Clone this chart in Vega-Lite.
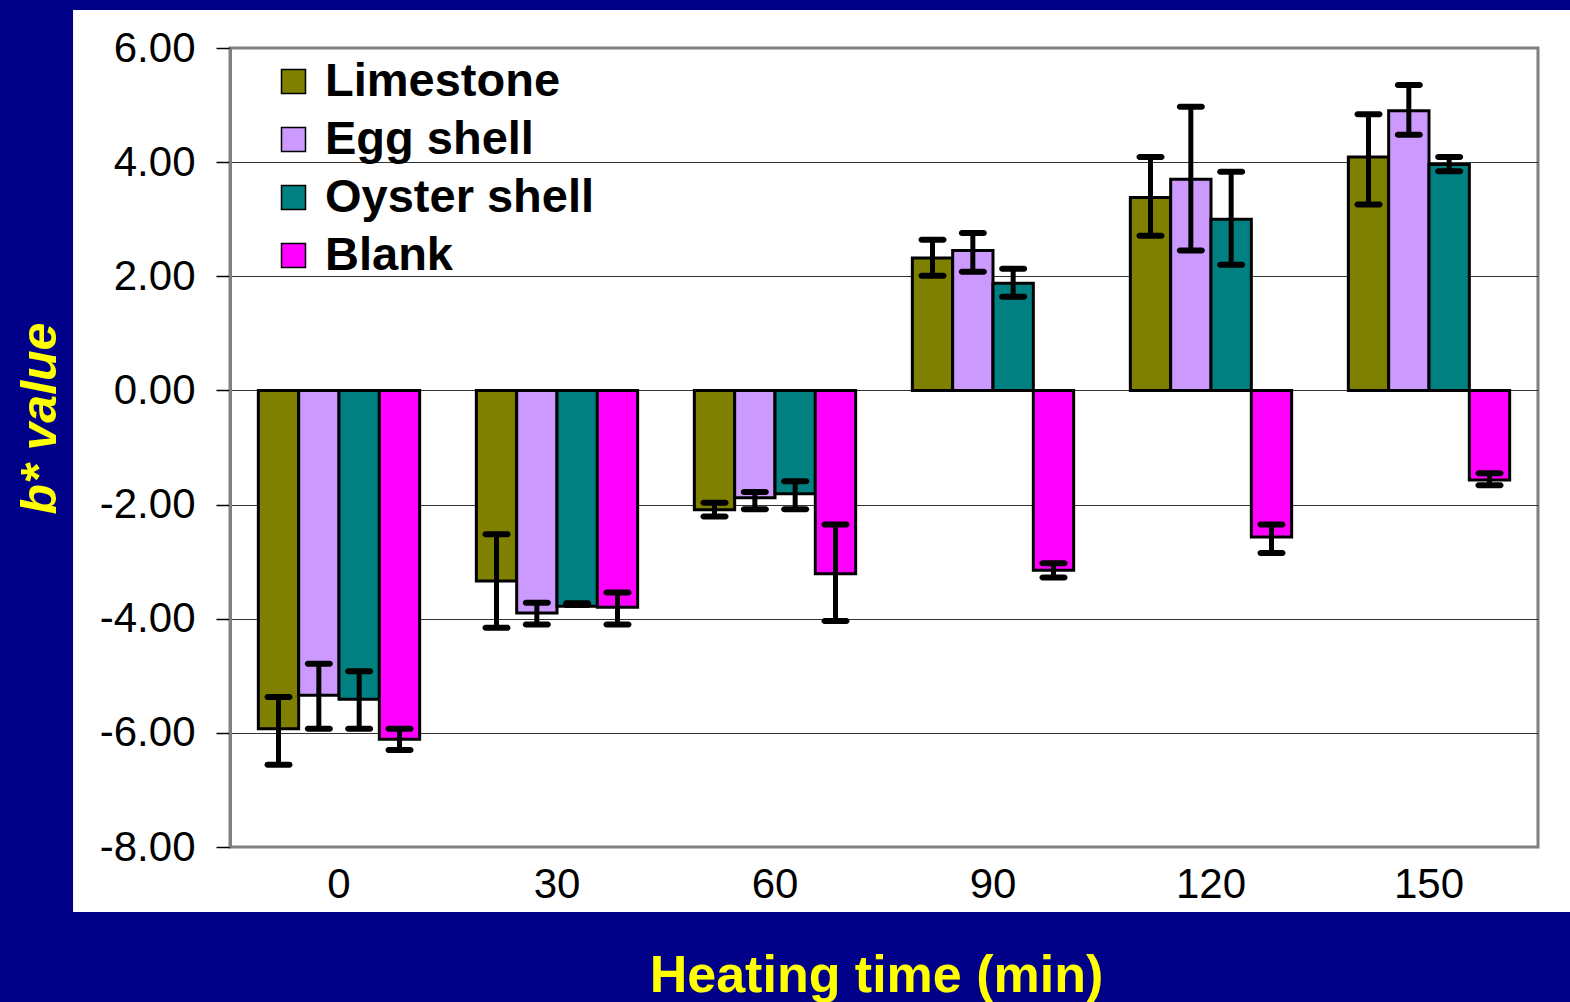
{
  "$schema": "https://vega.github.io/schema/vega-lite/v6.json",
  "width": 1308,
  "height": 799,
  "autosize": "none",
  "padding": {"left": 230, "top": 48, "right": 32, "bottom": 155},
  "background": "white",
  "config": {
    "font": "Liberation Sans",
    "view": {"stroke": "#808080", "strokeWidth": 3}
  },
  "datasets": {
    "bstar": [
      {"time": "0", "material": "Limestone", "value": -5.93, "lo": -6.56, "hi": -5.37},
      {"time": "0", "material": "Egg shell", "value": -5.34, "lo": -5.93, "hi": -4.79},
      {"time": "0", "material": "Oyster shell", "value": -5.41, "lo": -5.93, "hi": -4.92},
      {"time": "0", "material": "Blank", "value": -6.11, "lo": -6.30, "hi": -5.93},
      {"time": "30", "material": "Limestone", "value": -3.34, "lo": -4.16, "hi": -2.52},
      {"time": "30", "material": "Egg shell", "value": -3.90, "lo": -4.10, "hi": -3.72},
      {"time": "30", "material": "Oyster shell", "value": -3.78, "lo": -3.76, "hi": -3.73},
      {"time": "30", "material": "Blank", "value": -3.80, "lo": -4.10, "hi": -3.54},
      {"time": "60", "material": "Limestone", "value": -2.09, "lo": -2.21, "hi": -1.97},
      {"time": "60", "material": "Egg shell", "value": -1.88, "lo": -2.08, "hi": -1.78},
      {"time": "60", "material": "Oyster shell", "value": -1.81, "lo": -2.08, "hi": -1.59},
      {"time": "60", "material": "Blank", "value": -3.21, "lo": -4.04, "hi": -2.35},
      {"time": "90", "material": "Limestone", "value": 2.32, "lo": 2.01, "hi": 2.64},
      {"time": "90", "material": "Egg shell", "value": 2.45, "lo": 2.08, "hi": 2.76},
      {"time": "90", "material": "Oyster shell", "value": 1.88, "lo": 1.64, "hi": 2.13},
      {"time": "90", "material": "Blank", "value": -3.15, "lo": -3.28, "hi": -3.03},
      {"time": "120", "material": "Limestone", "value": 3.38, "lo": 2.71, "hi": 4.09},
      {"time": "120", "material": "Egg shell", "value": 3.70, "lo": 2.45, "hi": 4.97},
      {"time": "120", "material": "Oyster shell", "value": 3.00, "lo": 2.20, "hi": 3.83},
      {"time": "120", "material": "Blank", "value": -2.57, "lo": -2.85, "hi": -2.35},
      {"time": "150", "material": "Limestone", "value": 4.09, "lo": 3.26, "hi": 4.84},
      {"time": "150", "material": "Egg shell", "value": 4.90, "lo": 4.48, "hi": 5.35},
      {"time": "150", "material": "Oyster shell", "value": 3.96, "lo": 3.84, "hi": 4.09},
      {"time": "150", "material": "Blank", "value": -1.57, "lo": -1.66, "hi": -1.45}
    ]
  },
  "layer": [
    {
      "data": {"values": [{}]},
      "layer": [
        {
          "mark": {"type": "rect", "color": "#000088", "clip": false},
          "encoding": {
            "x": {"datum": -0.2, "type": "quantitative", "scale": {"domain": [0, 1], "nice": false, "zero": false},
              "axis": {"title": "Heating time (min)", "orient": "bottom", "labels": false, "ticks": false, "domain": false, "grid": false, "zindex": 1,
                "titleFontSize": 52, "titleFontWeight": "bold", "titleColor": "#FFFF00", "titleX": 646, "titleY": 144, "titleBaseline": "alphabetic", "titleAlign": "center"}},
            "x2": {"datum": -0.12},
            "y": {"datum": 7, "type": "quantitative", "scale": {"domain": [-8, 6], "nice": false, "zero": false},
              "axis": {"title": "b* value", "orient": "left", "labels": false, "ticks": false, "domain": false, "grid": false, "zindex": 1,
                "titleFontSize": 50, "titleFontWeight": "bold", "titleFontStyle": "italic", "titleColor": "#FFFF00", "titleAngle": -90, "titleX": -175, "titleY": 370, "titleBaseline": "alphabetic", "titleAlign": "center"}},
            "y2": {"datum": -11}
          }
        },
        {
          "mark": {"type": "rect", "color": "#000088", "clip": false},
          "encoding": {
            "x": {"datum": -0.2, "type": "quantitative"},
            "x2": {"datum": 1.1},
            "y": {"datum": 7, "type": "quantitative"},
            "y2": {"datum": 6.666}
          }
        },
        {
          "mark": {"type": "rect", "color": "#000088", "clip": false},
          "encoding": {
            "x": {"datum": -0.2, "type": "quantitative"},
            "x2": {"datum": 1.1},
            "y": {"datum": -9.139, "type": "quantitative"},
            "y2": {"datum": -11}
          }
        }
      ]
    },
    {
      "data": {"name": "bstar"},
      "encoding": {
        "x": {"field": "time", "type": "ordinal", "sort": ["0", "30", "60", "90", "120", "150"],
          "scale": {"paddingInner": 0.26, "paddingOuter": 0.13},
          "axis": {"title": null, "orient": "bottom", "labelFontSize": 42, "labelColor": "black", "labelAngle": 0, "ticks": false, "domain": false, "grid": false, "labelPadding": 17}},
        "xOffset": {"field": "material", "type": "nominal", "sort": ["Limestone", "Egg shell", "Oyster shell", "Blank"]}
      },
      "layer": [
        {
          "mark": {"type": "bar", "stroke": "black", "strokeWidth": 3, "opacity": 1},
          "encoding": {
            "y": {"field": "value", "type": "quantitative", "scale": {"domain": [-8, 6], "nice": false, "zero": false},
              "axis": {"title": null, "orient": "left", "values": [-8, -6, -4, -2, 0, 2, 4, 6], "format": ".2f",
                "labelExpr": "replace(datum.label, '−', '-')",
                "labelFontSize": 42, "labelColor": "black", "labelPadding": 21,
                "tickSize": 14, "tickColor": "black", "tickWidth": 1.5,
                "domainColor": "#808080", "domainWidth": 3,
                "grid": true, "gridWidth": 1,
                "gridColor": {"condition": {"test": "datum.value == 6 || datum.value == -8", "value": "#808080"}, "value": "#333333"}}},
            "color": {"field": "material", "type": "nominal",
              "scale": {"domain": ["Limestone", "Egg shell", "Oyster shell", "Blank"], "range": ["#808000", "#CC99FF", "#008080", "#FF00FF"]},
              "legend": {"title": null, "orient": "none", "legendX": 40, "legendY": 10, "symbolType": "square", "symbolSize": 576,
                "symbolStrokeColor": "black", "symbolStrokeWidth": 1.5, "symbolOpacity": 1, "labelLimit": 600,
                "labelFontSize": 47, "labelFontWeight": "bold", "labelColor": "black", "rowPadding": 10, "labelOffset": 8, "padding": 0}}
          }
        },
        {
          "mark": {"type": "rule", "color": "black", "strokeWidth": 5},
          "encoding": {
            "y": {"field": "lo", "type": "quantitative"},
            "y2": {"field": "hi"}
          }
        },
        {
          "mark": {"type": "tick", "color": "black", "thickness": 6, "size": 28, "opacity": 1, "cornerRadius": 3},
          "encoding": {"y": {"field": "lo", "type": "quantitative"}}
        },
        {
          "mark": {"type": "tick", "color": "black", "thickness": 6, "size": 28, "opacity": 1, "cornerRadius": 3},
          "encoding": {"y": {"field": "hi", "type": "quantitative"}}
        }
      ]
    }
  ],
  "resolve": {"scale": {"x": "independent"}, "axis": {"x": "independent", "y": "independent"}}
}
